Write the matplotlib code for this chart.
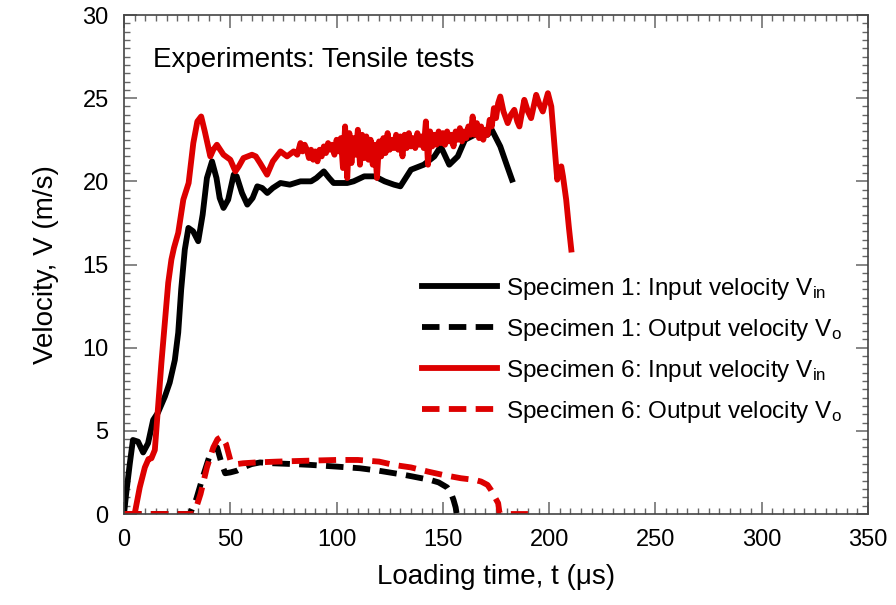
import numpy as np
import matplotlib
matplotlib.use("Agg")
import matplotlib.pyplot as plt
from matplotlib.ticker import MultipleLocator

plt.rcParams['font.family'] = ['Liberation Sans', 'DejaVu Sans']
plt.rcParams['mathtext.fontset'] = 'custom'
plt.rcParams['mathtext.rm'] = 'Liberation Sans'
plt.rcParams['mathtext.it'] = 'Liberation Sans:italic'
plt.rcParams['mathtext.default'] = 'regular'

# specimen 1, input velocity (black solid)
t1_in = [0, 1, 2.7, 4.2, 6.6, 9, 11.3, 13.7, 16, 19.2, 21.5, 23.9, 25.5, 26.9, 28.6,
         30.3, 32.5, 34.9, 37, 39, 41.4, 43.5, 45, 46.8, 49, 51.6, 53, 55.5, 58, 60.5,
         62.7, 65, 67.4, 70, 73.6, 78, 83, 88, 90.5, 94, 96.5, 98.6, 102, 105, 108, 113,
         118, 122.6, 127, 130, 135, 141, 146, 149, 153, 157, 160.4, 165, 171, 173, 177,
         180, 182.5]
v1_in = [0, 1.2, 3.0, 4.45, 4.35, 3.7, 4.25, 5.65, 6.1, 7.05, 7.9, 9.25, 10.9, 13.5, 15.9,
         17.2, 17.0, 16.4, 18.0, 20.2, 21.2, 20.2, 19.0, 18.4, 18.9, 20.4, 20.3, 19.3, 18.6, 19.0,
         19.7, 19.6, 19.3, 19.6, 19.9, 19.8, 20.0, 20.0, 20.2, 20.6, 20.2, 19.9, 19.9, 19.9, 20.0, 20.3,
         20.3, 20.0, 19.8, 19.7, 20.7, 21.0, 21.5, 22.1, 21.0, 21.5, 22.5, 22.8, 22.8, 23.1, 22.1,
         21.0, 20.1]

# specimen 1, output velocity (black dashed)
t1_out = [0, 31, 34, 37, 40, 43.8, 46, 47.6, 50, 53, 56, 60, 64, 70, 80, 88, 100, 111,
          120, 132, 144, 148, 152, 154, 155, 156, 156.5]
v1_out = [0, 0, 0.9, 2.2, 3.4, 4.0, 3.0, 2.45, 2.5, 2.6, 2.8, 3.0, 3.1, 3.05, 3.0, 2.95, 2.85, 2.75,
          2.6, 2.35, 2.05, 1.9, 1.6, 1.2, 0.85, 0.4, 0]

# specimen 6, input velocity (red solid)
t6_in = [0, 5, 7.4, 9.8, 11.5, 12.9, 14.5, 16, 17.6, 19.2, 20.8, 22.3, 23.5, 25.5, 27.9,
         30.4, 32.6, 34.5, 36.3, 38, 40.6, 42, 43.7, 46.8, 50, 52.4, 54, 56.2, 60.2, 62,
         64, 67.3, 70, 73.6, 76.7, 79.8, 81.5,
         83, 84, 85, 86, 87, 88, 89, 90, 91, 92, 93, 94, 95, 96, 97, 98, 99, 100,
         101, 102, 103, 104, 105, 106, 107, 108, 109, 110, 111, 112, 113, 114, 115, 116,
         117, 118, 119, 120, 121, 122, 123, 124, 125, 126, 127, 128, 129, 130, 131, 132,
         133, 134, 135, 136, 137, 138, 139, 140, 141, 142, 143, 144, 145, 146, 147, 148,
         149, 150, 151, 152, 153, 154, 155, 156, 157, 158, 159, 160, 161, 162, 163, 164,
         165, 166, 167, 168, 169, 170, 171, 172, 173, 174, 175, 176, 177,
         178.5, 180.5, 182, 183.6, 185, 186, 188.3, 190, 191.5, 193.9, 195.5, 197, 199.4,
         201, 202.5, 203.8, 205, 205.7, 206.5, 208, 209.3, 210.4]
v6_in = [0, 0, 1.6, 2.8, 3.3, 3.35, 3.85, 6.4, 9.1, 11.5, 13.9, 15.3, 16.0, 16.9, 18.9,
         19.9, 22.3, 23.6, 23.9, 23.0, 21.5, 21.9, 22.2, 21.6, 21.3, 20.6, 20.9, 21.4, 21.6, 21.5,
         21.1, 20.4, 21.2, 21.8, 21.5, 21.8, 21.6,
         22.3, 21.8, 22.2, 21.9, 21.4, 21.9, 21.3, 21.8, 21.2, 21.9, 21.5, 22.1, 21.7, 22.3, 21.9, 22.2, 21.6, 22.5,
         21.8, 22.6, 20.8, 23.3, 20.2, 22.9, 21.1, 22.6, 21.6, 23.1, 21.0, 22.8, 21.4, 22.7, 21.3, 22.5,
         21.0, 22.2, 20.2, 22.4, 21.5, 22.6, 21.7, 22.9, 21.9, 22.5, 22.0, 22.8, 21.9, 22.7, 21.5, 22.8,
         22.0, 22.9, 22.1, 22.6, 22.0, 22.9, 22.2, 22.7, 22.0, 23.6, 21.0, 23.0, 22.1, 22.8, 22.2, 23.0,
         22.3, 22.9, 22.2, 23.0, 22.4, 22.8, 22.1, 23.0, 22.5, 23.2, 22.4, 23.0, 22.6, 23.3, 22.8, 23.9,
         22.8, 23.5, 22.6, 23.3, 22.5, 23.1, 22.8, 23.7, 23.3, 24.4, 23.8, 24.7, 25.1,
         24.2, 23.5, 24.0, 24.3, 23.6, 23.3, 24.9, 24.2, 23.8, 25.2, 24.6, 24.2, 25.3,
         24.5, 22.1, 20.1, 20.8, 20.9, 20.3, 18.9, 17.2, 15.9]

# specimen 6, output velocity (red dashed)
t6_out = [0, 33, 36, 39, 42, 44, 46, 48, 50, 53, 56, 62, 72, 85, 100, 110, 120, 127, 135,
          143, 150, 158.5, 165, 168, 171, 172.6, 174.5, 176, 176.6, 177, 190]
v6_out = [0, 0, 1.2, 2.8, 4.0, 4.5, 4.65, 4.2, 3.25, 3.0, 3.05, 3.1, 3.15, 3.2, 3.25, 3.25, 3.15, 2.95, 2.8,
          2.55, 2.35, 2.15, 2.05, 1.95, 1.75, 1.45, 1.0, 0.65, 0.1, 0, 0]

labels = ["Specimen 1: Input velocity V$_{in}$",
          "Specimen 1: Output velocity V$_{o}$",
          "Specimen 6: Input velocity V$_{in}$",
          "Specimen 6: Output velocity V$_{o}$"]

red = '#dd0000'
lw = 4.2
dash = (0, (3.0, 1.6))

fig = plt.figure(figsize=(8.96, 6.05), dpi=100)
ax = fig.add_axes([0.1384, 0.1504, 0.8304, 0.8248])

ax.plot(t1_in, v1_in, color='black', lw=lw, label=labels[0])
ax.plot(t1_out, v1_out, color='black', lw=lw, ls=dash, label=labels[1])
ax.plot(t6_in, v6_in, color=red, lw=lw, label=labels[2])
ax.plot(t6_out, v6_out, color=red, lw=lw, ls=dash, label=labels[3])

ax.set_xlim(0, 350)
ax.set_ylim(0, 30)
ax.xaxis.set_major_locator(MultipleLocator(50))
ax.xaxis.set_minor_locator(MultipleLocator(5))
ax.yaxis.set_major_locator(MultipleLocator(5))
ax.yaxis.set_minor_locator(MultipleLocator(0.5))
ax.tick_params(which='both', direction='in', top=True, right=True, color='#666666')
ax.tick_params(which='major', length=9, width=1.1, labelsize=17, pad=11)
ax.tick_params(which='minor', length=4.5, width=1.0)
for s in ax.spines.values():
    s.set_color('#444444')
    s.set_linewidth(1.2)

ax.set_xlabel('Loading time, t (\u03bcs)', fontsize=20, labelpad=9)
ax.set_ylabel('Velocity, V (m/s)', fontsize=20, labelpad=17)

ax.text(13.7, 27.3, 'Experiments: Tensile tests', fontsize=20, va='center', ha='left')

ax.legend(loc='center left', bbox_to_anchor=(0.40, 0.328), frameon=False,
          fontsize=17.5, handlelength=3.1, handletextpad=0.37, labelspacing=0.62,
          borderpad=0, borderaxespad=0)

fig.savefig('out.png', dpi=100)
